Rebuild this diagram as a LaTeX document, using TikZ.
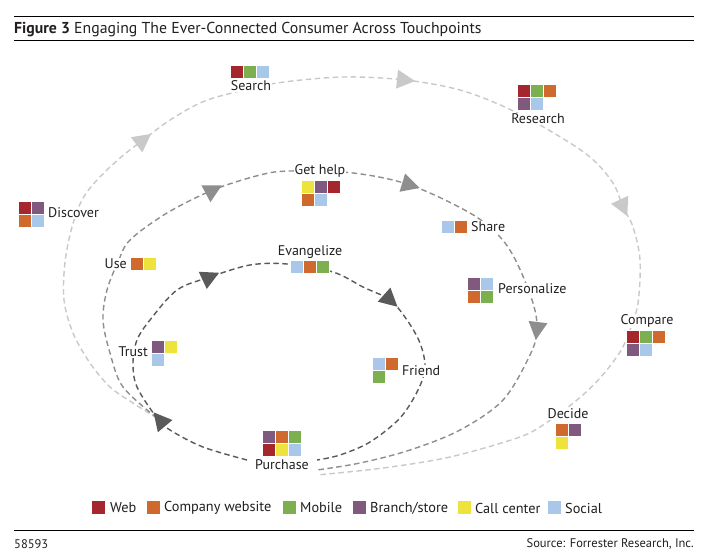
\documentclass[tikz,border=0pt]{standalone}
\usepackage{fontspec}
\setmainfont{PT Sans}
\usetikzlibrary{calc}
\definecolor{cweb}{HTML}{A6262D}
\definecolor{corg}{HTML}{D0692E}
\definecolor{cmob}{HTML}{7BAF4F}
\definecolor{cpur}{HTML}{7F5A7E}
\definecolor{cyel}{HTML}{EEE33C}
\definecolor{csoc}{HTML}{A9C7E8}
\definecolor{clight}{HTML}{C9C9C9}
\definecolor{cmid}{HTML}{8E8E8E}
\definecolor{cdark}{HTML}{5A5A5A}
\definecolor{ctext}{HTML}{231F20}
\newcommand\tilerow[3]{\foreach \c [count=\i from 0] in {#3}{%
  \fill[white] ({#1+13*\i-0.8},{#2-0.8}) rectangle ++(13.6,13.6);
  \fill[\c] ({#1+13*\i},#2) rectangle ++(12,12);}}
\newcommand\arrowtri[3]{\fill[#1] ($(#2)+(#3:10)$) -- ($(#2)+(#3+180:8)+(#3+90:9.5)$) -- ($(#2)+(#3+180:8)+(#3-90:9.5)$) -- cycle;}
\begin{document}
\begin{tikzpicture}[x=1pt,y=-1pt,
  font=\fontsize{14}{16}\selectfont,
  lbl/.style={fill=white, inner sep=1pt, text=ctext},
  loopline/.style={line width=1.4pt, dash pattern=on 5.5pt off 3.5pt},
  outerl/.style={loopline, draw=clight},
  midl/.style={loopline, draw=cmid},
  innerl/.style={loopline, draw=cdark},
  legtxt/.style={anchor=west, inner sep=0, text=ctext, font=\fontsize{14.3}{16}\selectfont},
  foot/.style={inner sep=0, text=ctext, font=\fontsize{12.5}{14}\selectfont},
  rule/.style={line width=0.9pt, draw=black}]
\useasboundingbox (0,0) rectangle (708,558);
\fill[white] (0,0) rectangle (708,558);

% title
\draw[rule] (14,16) -- (694,16);
\draw[rule] (14,40) -- (694,40);
\node[anchor=base west, inner sep=0, text=ctext, font=\fontsize{15.8}{18}\selectfont] (title) at (14,33) {\textbf{Figure 3} Engaging The Ever-Connected Consumer Across Touchpoints};

% key points of loops
\coordinate (J) at (157,418);
\coordinate (pin) at (247,460);
\coordinate (endD) at (317,460);
\coordinate (endM) at (317,470);
\coordinate (endL) at (317,475);

% outer loop
\draw[outerl] plot[smooth, tension=0.55] coordinates {(J) (133,403) (110,387) (90,363) (73,333) (64,300) (65,262) (72,227) (82,200) (97,180) (120,158) (143,140) (170,120) (200,103) (228,94) (277,83) (343,77) (405,80) (460,90) (507,108) (552,132) (590,157) (613,183) (623,207) (633,227) (640,260) (638,303) (630,330) (620,352) (600,378) (577,400) (543,425) (517,438) (450,457) (383,468) (endL)};
% middle loop
\draw[midl] plot[smooth, tension=0.55] coordinates {(J) (123,387) (110,353) (103,320) (107,290) (118,262) (130,240) (167,213) (213,190) (260,175) (290,171) (353,173) (410,185) (470,213) (500,237) (517,263) (533,303) (537,330) (530,355) (503,400) (460,430) (410,450) (360,463) (endM)};
% inner loop
\draw[innerl] plot[smooth, tension=0.55] coordinates {(pin) (203,447) (170,430) (J) (137,387) (133,363) (137,340) (150,320) (177,290) (210,277) (250,265) (287,264) (333,272) (363,287) (390,300) (407,320) (420,343) (425,367) (418,390) (400,418) (370,442) (340,455) (endD)};

% arrowheads
\arrowtri{clight}{143,140}{-37}
\arrowtri{clight}{405,80}{6}
\arrowtri{clight}{623,207}{65}
\arrowtri{cmid}{213,190}{-28}
\arrowtri{cmid}{410,185}{17}
\arrowtri{cmid}{537,330}{97}
\arrowtri{cdark}{210,277}{-25}
\arrowtri{cdark}{390,300}{42}
\arrowtri{cdark}{160,420}{-130}

% touchpoint labels
\node[lbl] (search) at (251,86) {Search};
\tilerow{231}{66}{cweb,cmob,csoc}
\node[lbl] (research) at (538,119) {Research};
\tilerow{518}{85}{cweb,cmob,corg}
\tilerow{518}{98}{cpur,csoc}
\node[lbl, anchor=west] (discover) at (47,213) {Discover};
\tilerow{19}{202}{cweb,cpur}
\tilerow{19}{215}{corg,csoc}
\node[lbl] (gethelp) at (320,171) {Get help};
\tilerow{302}{181}{cyel,cpur,cweb}
\tilerow{302}{194}{corg,csoc}
\node[lbl, anchor=west] (share) at (470,227) {Share};
\tilerow{442}{221}{csoc,corg}
\node[lbl, anchor=east] (use) at (128,264) {Use};
\tilerow{131}{258}{corg,cyel}
\node[lbl] (evangelize) at (310,252) {Evangelize};
\tilerow{291}{261}{csoc,corg,cmob}
\node[lbl, anchor=west] (personalize) at (497,289) {Personalize};
\tilerow{468}{278}{cpur,csoc}
\tilerow{468}{291}{corg,cmob}
\node[lbl] (compare) at (647,321) {Compare};
\tilerow{627}{331}{cweb,cmob,corg}
\tilerow{627}{344}{cpur,csoc}
\node[lbl, anchor=east] (trust) at (149,352) {Trust};
\tilerow{152}{341}{cpur,cyel}
\tilerow{152}{354}{csoc}
\node[lbl, anchor=west] (friend) at (401,371) {Friend};
\tilerow{373}{358}{csoc,corg}
\tilerow{373}{371}{cmob}
\node[lbl] (decide) at (568,414) {Decide};
\tilerow{556}{424}{corg,cpur}
\tilerow{556}{437}{cyel}
\node[lbl] (purchase) at (282,465) {Purchase};
\tilerow{263}{431}{cpur,corg,cmob}
\tilerow{263}{444}{cweb,cyel,csoc}

% legend
\fill[cweb] (92,501) rectangle ++(13,13);
\node[legtxt] (lweb) at (110,508) {Web};
\fill[corg] (147,501) rectangle ++(13,13);
\node[legtxt] (lcomp) at (164,508) {Company website};
\fill[cmob] (283,501) rectangle ++(13,13);
\node[legtxt] (lmob) at (300,508) {Mobile};
\fill[cpur] (353,501) rectangle ++(13,13);
\node[legtxt] (lbranch) at (370,508) {Branch/store};
\fill[cyel] (458,501) rectangle ++(13,13);
\node[legtxt] (lcall) at (475,508) {Call center};
\fill[csoc] (548,501) rectangle ++(13,13);
\node[legtxt] (lsoc) at (565,508) {Social};

% footer
\draw[rule] (14,530) -- (694,530);
\node[foot, anchor=west] (code) at (14,544) {58593};
\node[foot, anchor=east] (source) at (694,544) {Source: Forrester Research, Inc.};
\end{tikzpicture}
\end{document}
